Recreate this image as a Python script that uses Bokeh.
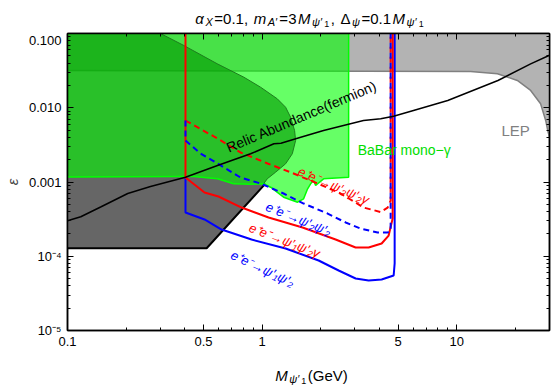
import math
from bokeh.plotting import figure
from bokeh.layouts import column
from bokeh.models import (LogAxis, FixedTicker, CustomJSTickFormatter, Label, Range1d,
                          CustomLabelingPolicy)
from bokeh.embed import file_html
from bokeh.resources import INLINE

# ---------------- data ----------------
x_major = [0.1, 0.5, 1, 5, 10]
x_labels = ["0.1", "0.5", "1", "5", "10"]
x_minor = [0.2, 0.3, 0.4, 0.6, 0.7, 0.8, 0.9, 2, 3, 4, 6, 7, 8, 9, 20, 30]
y_major = [1e-5, 1e-4, 1e-3, 1e-2, 1e-1]
y_labels = ["10\u207b\u2075", "10\u207b\u2074", "0.001", "0.010", "0.100"]
y_minor = [k * 10.0 ** e for e in range(-5, -1) for k in range(2, 10)]

# LEP excluded region (lower boundary)
lep_m = [0.1, 11.8, 16.2, 20.5, 24.0, 27.0, 28.7, 29.4, 30.0]
lep_eps = [0.0318, 0.0308, 0.0287, 0.0233, 0.0171, 0.0113, 6.7e-3, 4.9e-3, 4.0e-3]

# dark grey excluded region
dg_m = [0.1, 0.519, 1.04, 1.018, 0.883, 0.714, 0.590, 0.445, 0.395, 0.1]
dg_eps = [1.28e-4, 1.28e-4, 9.5e-4, 9.46e-4, 9.33e-4, 9.46e-4, 1.104e-3, 1.186e-3, 1.19e-3, 1.17e-3]

# BaBar mono-gamma (lower boundary), region up to 0.1
babar_m = [0.1, 0.395, 0.445, 0.590, 0.714, 0.883, 1.018, 1.106, 1.290, 1.522, 1.635,
           1.714, 1.776, 1.840, 1.884, 2.071, 2.785]
babar_eps = [1.17e-3, 1.19e-3, 1.186e-3, 1.104e-3, 9.46e-4, 9.33e-4, 9.46e-4, 8.51e-4,
             6.24e-4, 5.35e-4, 5.94e-4, 8.1e-4, 9.46e-4, 1.047e-3, 8.97e-4, 1.104e-3, 1.16e-3]

# darker green overlapping region (curved boundary)
dk_m = [0.1, 0.3006, 0.3963, 0.5883, 0.8062, 0.9824, 1.197, 1.321, 1.401, 1.469, 1.487,
        1.430, 1.321, 1.173, 1.063, 1.018, 0.883, 0.714, 0.590, 0.445, 0.395, 0.1]
dk_eps = [0.1, 0.1, 0.0689, 0.03907, 0.02578, 0.01891, 0.01320, 0.01017, 7.46e-3, 4.94e-3,
          3.62e-3, 2.40e-3, 1.758e-3, 1.355e-3, 1.104e-3, 9.46e-4, 9.33e-4, 9.46e-4,
          1.104e-3, 1.186e-3, 1.19e-3, 1.17e-3]

# relic abundance (fermion)
relic_m = [0.1, 0.117, 0.148, 0.204, 0.267, 0.404, 0.59, 0.873, 1.15, 1.25, 1.58, 2.07,
           2.62, 3.32, 4.07, 4.74, 6.0, 9.0, 16.3, 24.0, 30.0]
relic_eps = [3.0e-4, 3.4e-4, 4.6e-4, 7.0e-4, 8.7e-4, 1.16e-3, 1.67e-3, 2.4e-3, 3.27e-3,
             3.33e-3, 4.0e-3, 4.94e-3, 5.77e-3, 6.73e-3, 7.1e-3, 7.69e-3, 9.2e-3, 0.0125,
             0.0233, 0.039, 0.051]

# e+e- -> psi'1 psi'2 gamma (red solid)
r1_m = [0.404, 0.404, 0.506, 0.597, 0.785, 1.08, 1.615, 2.387, 3.025, 3.528, 4.116, 4.471, 4.688, 4.688]
r1_eps = [0.1, 1.15e-3, 7.22e-4, 6.38e-4, 4.53e-4, 3.32e-4, 2.44e-4, 1.68e-4, 1.31e-4,
          1.31e-4, 1.485e-4, 1.90e-4, 3.22e-4, 0.1]
# e+e- -> psi'1 psi'2 (blue solid)
b1_m = [0.404, 0.404, 0.506, 0.619, 0.883, 1.321, 1.952, 2.474, 3.025, 3.528, 4.116, 4.745, 4.801, 4.801]
b1_eps = [1.15e-3, 3.88e-4, 3.13e-4, 2.29e-4, 1.68e-4, 1.27e-4, 8.77e-5, 6.43e-5, 5.02e-5,
          4.71e-5, 4.86e-5, 5.50e-5, 8.0e-5, 0.1]
# e+e- -> psi'2 psi'2 gamma (red dashed)
r2_m = [0.404, 0.590, 0.775, 1.067, 1.452, 1.929, 2.533, 3.326, 4.068, 4.418, 4.578, 4.578]
r2_eps = [6.73e-3, 3.85e-3, 2.50e-3, 1.776e-3, 1.302e-3, 9.55e-4, 7.0e-4, 4.53e-4, 3.94e-4,
          4.53e-4, 5.63e-4, 0.1]
# e+e- -> psi'2 psi'2 (blue dashed)
b2_m = [0.404, 0.404, 0.483, 0.590, 0.775, 0.982, 1.290, 1.635, 2.172, 2.688, 3.209, 3.925,
        4.418, 4.578, 4.578]
b2_eps = [6.73e-3, 3.62e-3, 2.42e-3, 1.776e-3, 1.149e-3, 9.55e-4, 7.0e-4, 5.13e-4, 3.76e-4,
          2.85e-4, 2.36e-4, 2.09e-4, 2.09e-4, 2.22e-4, 0.1]

FONT = "Liberation Sans"
W_PAGE = 554
FRAME_L = 67
FRAME_R = 5

# ---------------- main plot ----------------
p = figure(width=W_PAGE, height=320, x_axis_type="log", y_axis_type="log",
           x_range=Range1d(0.1, 30), y_range=Range1d(1e-5, 0.1),
           output_backend="svg", toolbar_location=None,
           min_border_left=FRAME_L, min_border_right=FRAME_R, min_border_top=1,
           min_border_bottom=22)
p.grid.visible = False
p.outline_line_color = "black"
p.outline_line_width = 1.5

xt = FixedTicker(ticks=x_major, minor_ticks=x_minor)
yt = FixedTicker(ticks=y_major, minor_ticks=y_minor)
fmt_code = ("const i = vals.findIndex(t => Math.abs(Math.log10(t) - Math.log10(tick)) < 1e-6);"
            "return i >= 0 ? labs[i] : '';")
xfmt = CustomJSTickFormatter(args=dict(vals=x_major, labs=x_labels), code=fmt_code)
yfmt = CustomJSTickFormatter(args=dict(vals=y_major, labs=y_labels), code=fmt_code)
blank = CustomJSTickFormatter(code="return ''")


def style_axis(ax, show_labels=True):
    ax.major_tick_in = 6
    ax.major_tick_out = 0
    ax.minor_tick_in = 3
    ax.minor_tick_out = 0
    ax.axis_line_width = 1.5
    ax.axis_line_color = "black"
    ax.major_tick_line_color = "black"
    ax.minor_tick_line_color = "black"
    ax.major_label_text_font = FONT
    ax.major_label_text_color = "black"
    ax.major_label_text_font_size = "13px"
    if show_labels:
        ax.major_label_standoff = 6
    else:
        ax.major_label_standoff = 0
        ax.major_label_policy = CustomLabelingPolicy(code="return []")


p.xaxis[0].ticker = xt
p.xaxis[0].formatter = xfmt
p.yaxis[0].ticker = yt
p.yaxis[0].formatter = yfmt
style_axis(p.xaxis[0])
style_axis(p.yaxis[0])
p.yaxis[0].axis_label = "\u03b5"
p.yaxis[0].axis_label_text_font = FONT
p.yaxis[0].axis_label_text_font_size = "15px"
p.yaxis[0].axis_label_text_font_style = "italic"
p.yaxis[0].axis_label_standoff = 5

top = LogAxis(ticker=xt, formatter=blank)
right = LogAxis(ticker=yt, formatter=blank)
style_axis(top, False)
style_axis(right, False)
p.add_layout(top, "above")
p.add_layout(right, "right")

# ---- regions ----
p.patch(lep_m + [30.0, 0.1], lep_eps + [0.1, 0.1], fill_color="#b3b3b3", line_color=None)
p.line(lep_m, lep_eps, line_color="#808080", line_width=1.5)

p.patch(dg_m, dg_eps, fill_color="#666666", line_color=None)
p.line(dg_m[:3], dg_eps[:3], line_color="black", line_width=2)

p.patch(babar_m + [2.785, 0.1], babar_eps + [0.1, 0.1], fill_color="#00ff00", fill_alpha=0.6,
        line_color=None)
p.patch(dk_m, dk_eps, fill_color="#009600", fill_alpha=0.6, line_color=None)
p.line(dk_m[1:16], dk_eps[1:16], line_color="#1e7d1e", line_width=1)
p.line(babar_m + [2.785], babar_eps + [0.1], line_color="#00ff00", line_width=1.5)

# ---- curves ----
p.line(b1_m, b1_eps, line_color="#0000ff", line_width=2)
p.line(r1_m, r1_eps, line_color="#ff0000", line_width=2)
p.line(r2_m, r2_eps, line_color="#ff0000", line_width=2, line_dash="6 4")
p.line(b2_m, b2_eps, line_color="#0000ff", line_width=2, line_dash="6 4")
p.line(relic_m, relic_eps, line_color="black", line_width=1.5)


# ---- in-plot labels ----
def dlabel(x, y, text, color, size, angle, style="normal", align="center"):
    p.add_layout(Label(x=x, y=y, text=text, text_color=color, text_font=FONT,
                       text_font_size=f"{size}px", text_font_style=style, angle=angle,
                       text_align=align, text_baseline="middle"))


dlabel(1.596, 7.62e-3, "Relic Abundance(fermion)", "black", 14, math.radians(23))
dlabel(3.1, 2.66e-3, "BaBar mono\u2212\u03b3", "#00dd00", 14, 0, align="left")
dlabel(20.1, 4.94e-3, "LEP", "#808080", 15, 0)
dlabel(2.33, 8.97e-4, "e\u207ae\u207b\u2192\u03c8\u2032\u2082\u03c8\u2032\u2082\u03b3", "#ff0000", 13,
       math.radians(-23), "italic")
dlabel(1.54, 3.17e-4, "e\u207ae\u207b\u2192\u03c8\u2032\u2082\u03c8\u2032\u2082", "#0000ff", 13,
       math.radians(-22), "italic")
dlabel(1.305, 1.63e-4, "e\u207ae\u207b\u2192\u03c8\u2032\u2081\u03c8\u2032\u2082\u03b3", "#ff0000", 13,
       math.radians(-21), "italic")
dlabel(1.006, 6.84e-5, "e\u207ae\u207b\u2192\u03c8\u2032\u2081\u03c8\u2032\u2082", "#0000ff", 13,
       math.radians(-25), "italic")

# ---------------- title and x-axis label strips ----------------
W = {"\u03b1": 0.58, "X": 0.667, "=": 0.584, "0": 0.556, ".": 0.278, "1": 0.556, ",": 0.278,
     " ": 0.278, "m": 0.833, "A": 0.667, "\u2032": 0.25, "3": 0.556, "M": 0.833,
     "\u03c8": 0.72, "\u0394": 0.668, "(": 0.333, "G": 0.778, "e": 0.556, "V": 0.667, ")": 0.333}


def tw(s, size):
    return sum(W.get(c, 0.556) for c in s) * size


def strip(height):
    # frames of a column are aligned, so map the strip frame onto page pixels
    f = figure(width=W_PAGE, height=height, x_range=Range1d(FRAME_L, W_PAGE - FRAME_R),
               y_range=Range1d(0, height), output_backend="svg", toolbar_location=None,
               title=None, min_border_left=0, min_border_right=0, min_border_top=0,
               min_border_bottom=0, x_axis_location=None, y_axis_location=None)
    f.grid.visible = False
    f.outline_line_color = None
    return f


def pieces(f, items, center_x, base_y, gap=1.5):
    total = sum(tw(t, s) for t, s, _, _ in items) + gap * (len(items) - 1)
    x = center_x - total / 2
    for t, s, st, dy in items:
        f.add_layout(Label(x=x, y=base_y - dy, text=t, text_font=FONT, text_font_size=f"{s}px",
                           text_font_style=st, text_align="left", text_baseline="alphabetic",
                           text_color="black"))
        x += tw(t, s) + gap


title_items = [("\u03b1", 15, "italic", 0), ("X", 11, "italic", 3), ("=0.1, ", 15, "normal", 0),
               ("m", 15, "italic", 0), ("A\u2032", 11, "italic", 3), ("=3", 15, "normal", 0),
               ("M", 15, "italic", 0), ("\u03c8\u2032", 11, "italic", 3), ("1", 9, "normal", 5),
               (", ", 15, "normal", 0), ("\u0394", 15, "normal", 0), ("\u03c8", 11, "italic", 3),
               ("=0.1", 15, "normal", 0), ("M", 15, "italic", 0),
               ("\u03c8\u2032", 11, "italic", 3), ("1", 9, "normal", 5)]
xlab_items = [("M", 15, "italic", 0), ("\u03c8\u2032", 11, "italic", 3), ("1", 9, "normal", 5),
              ("(GeV)", 15, "normal", 0)]

t_fig = strip(32)
pieces(t_fig, title_items, 309, 14)
x_fig = strip(33)
pieces(x_fig, xlab_items, 311, 10)

layout = column(t_fig, p, x_fig, spacing=0)
open("out.html", "w").write(file_html(layout, INLINE))
